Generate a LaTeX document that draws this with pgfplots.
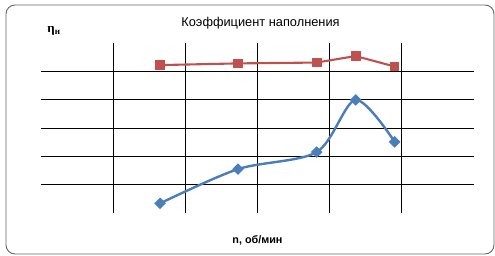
\documentclass[border=0pt]{standalone}
\usepackage{pgfplots}
\pgfplotsset{compat=1.18}
\usepackage{fontspec}
\setmainfont{Liberation Sans}
\newfontfamily\seriffont{Liberation Serif}
\definecolor{exred}{RGB}{192,80,77}
\definecolor{exblue}{RGB}{74,126,187}
\begin{document}
\begin{tikzpicture}
\path (0,0) rectangle (495pt,256pt);
\draw[gray!80!black, line width=0.9pt, rounded corners=9pt] (6pt,2pt) rectangle (494pt,251pt);
\begin{axis}[
  at={(41pt,43pt)}, anchor=south west,
  scale only axis, width=433pt, height=170pt,
  xmin=0, xmax=6, ymin=0, ymax=6,
  xtick={1,2,3,4,5}, ytick={1,2,3,4,5},
  xticklabels={}, yticklabels={},
  major tick length=0pt,
  axis line style={draw=none},
  grid=major,
  grid style={black, line width=0.75pt, solid},
  title={Коэффициент наполнения},
  title style={at={(0.5,1)}, anchor=center, yshift=14pt, xshift=3pt, font=\fontsize{12.8}{14}\selectfont},
  xlabel={\textbf{n, об/мин}},
  xlabel style={at={(0.5,0)}, anchor=center, yshift=-27pt, font=\fontsize{10.8}{12}\selectfont},
  ylabel={\seriffont\bfseries η\textsubscript{н}},
  ylabel style={at={(0.03,1)}, anchor=center, rotate=-90, yshift=12pt, font=\fontsize{13}{14}\selectfont},
  clip=false,
]
\addplot[exred, line width=2.1pt, mark=square*, mark size=3.8pt, mark options={solid}]
  coordinates {(1.65,5.22) (2.73,5.28) (3.82,5.31) (4.36,5.54) (4.90,5.17)};
\addplot[exblue, line width=2.4pt, smooth, tension=0.5, mark=square*, mark size=2.9pt, mark options={solid, rotate=45}]
  coordinates {(1.65,0.34) (2.73,1.55) (3.82,2.15) (4.36,3.99) (4.90,2.51)};
\end{axis}
\end{tikzpicture}
\end{document}
